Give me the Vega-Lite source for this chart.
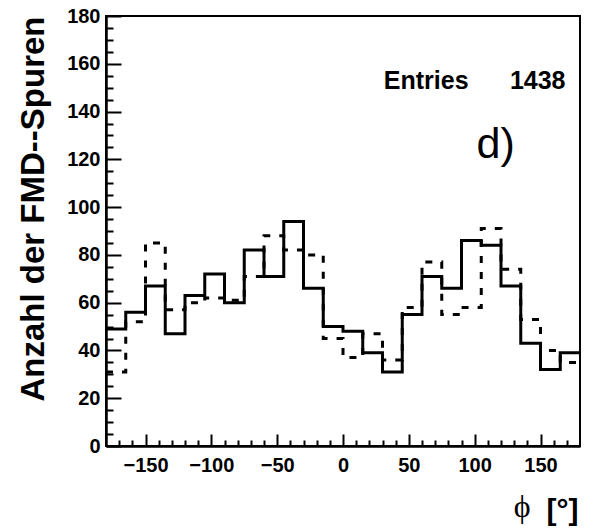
{
  "$schema": "https://vega.github.io/schema/vega-lite/v6.json",
  "autosize": "none",
  "width": 474,
  "height": 430,
  "padding": {"left": 106, "top": 16, "right": 15, "bottom": 83},
  "config": {
    "view": {"stroke": "black", "strokeWidth": 2}
  },
  "data": {
    "values": [
      {"phi": -180, "solid": 49, "dashed": 31},
      {"phi": -165, "solid": 56, "dashed": 52},
      {"phi": -150, "solid": 67, "dashed": 85},
      {"phi": -135, "solid": 47, "dashed": 57},
      {"phi": -120, "solid": 63, "dashed": 60},
      {"phi": -105, "solid": 72, "dashed": 62},
      {"phi": -90, "solid": 60, "dashed": 61},
      {"phi": -75, "solid": 82, "dashed": 71},
      {"phi": -60, "solid": 71, "dashed": 88},
      {"phi": -45, "solid": 94, "dashed": 82},
      {"phi": -30, "solid": 66, "dashed": 80},
      {"phi": -15, "solid": 50, "dashed": 45},
      {"phi": 0, "solid": 48, "dashed": 37},
      {"phi": 15, "solid": 39, "dashed": 47},
      {"phi": 30, "solid": 31, "dashed": 36},
      {"phi": 45, "solid": 55, "dashed": 58},
      {"phi": 60, "solid": 71, "dashed": 77},
      {"phi": 75, "solid": 66, "dashed": 55},
      {"phi": 90, "solid": 86, "dashed": 58},
      {"phi": 105, "solid": 84, "dashed": 91},
      {"phi": 120, "solid": 67, "dashed": 74},
      {"phi": 135, "solid": 43, "dashed": 53},
      {"phi": 150, "solid": 32, "dashed": 40},
      {"phi": 165, "solid": 39, "dashed": 35},
      {"phi": 180, "solid": 39, "dashed": 35}
    ]
  },
  "layer": [
    {
      "mark": {"type": "line", "interpolate": "step-after", "color": "black", "strokeWidth": 3, "strokeDash": [7, 9]},
      "encoding": {
        "x": {"field": "phi", "type": "quantitative", "scale": {"domain": [-180, 180], "nice": false},
          "axis": {"orient": "bottom", "title": null, "gridOpacity": 0, "values": [-170,-160,-140,-130,-120,-110,-90,-80,-70,-60,-40,-30,-20,-10,10,20,30,40,60,70,80,90,110,120,130,140,160,170], "labels": false, "tickSize": -6, "tickColor": "black", "tickWidth": 2, "domainColor": "black", "domainWidth": 2}},
        "y": {"field": "dashed", "type": "quantitative", "scale": {"domain": [0, 180], "nice": false},
          "axis": {"orient": "left", "title": null, "gridOpacity": 0, "values": [5,10,15,25,30,35,45,50,55,65,70,75,85,90,95,105,110,115,125,130,135,145,150,155,165,170,175], "labels": false, "tickSize": -7, "tickColor": "black", "tickWidth": 2, "domainColor": "black", "domainWidth": 2}}
      }
    },
    {
      "mark": {"type": "line", "interpolate": "step-after", "color": "black", "strokeWidth": 3},
      "encoding": {
        "x": {"field": "phi", "type": "quantitative",
          "axis": {"orient": "bottom", "gridOpacity": 0, "values": [-150, -100, -50, 0, 50, 100, 150], "tickSize": -12, "tickColor": "black", "tickWidth": 2, "labelPadding": 21,
            "labelFont": "Liberation Sans", "labelFontWeight": "bold", "labelFontSize": 20, "labelColor": "black", "domainColor": "black", "domainWidth": 2,
            "title": "[°]", "titleFont": "Liberation Sans", "titleFontWeight": "bold", "titleFontSize": 30, "titleColor": "black", "titleAnchor": "end", "titleAlign": "right", "titlePadding": 20, "titleX": 472}},
        "y": {"field": "solid", "type": "quantitative",
          "axis": {"orient": "left", "gridOpacity": 0, "values": [0, 20, 40, 60, 80, 100, 120, 140, 160, 180], "tickSize": -15, "tickColor": "black", "tickWidth": 2, "labelPadding": 21,
            "labelFont": "Liberation Sans", "labelFontWeight": "bold", "labelFontSize": 20, "labelColor": "black", "domainColor": "black", "domainWidth": 2,
            "title": "Anzahl der FMD--Spuren", "titleFont": "Liberation Sans", "titleFontWeight": "bold", "titleFontSize": 33, "titleColor": "black",
            "titleX": -73, "titleY": 0, "titleAngle": -90, "titleAlign": "right", "titleBaseline": "middle", "titleAnchor": null}}
      }
    },
    {
      "data": {"values": [{"x": 31, "y": 153}]},
      "mark": {"type": "text", "font": "Liberation Sans", "fontWeight": "bold", "fontSize": 25, "align": "left", "baseline": "middle", "color": "black", "text": "Entries"},
      "encoding": {"x": {"field": "x", "type": "quantitative", "axis": null}, "y": {"field": "y", "type": "quantitative", "axis": null}}
    },
    {
      "data": {"values": [{"x": 169, "y": 153}]},
      "mark": {"type": "text", "font": "Liberation Sans", "fontWeight": "bold", "fontSize": 25, "align": "right", "baseline": "middle", "color": "black", "text": "1438"},
      "encoding": {"x": {"field": "x", "type": "quantitative", "axis": null}, "y": {"field": "y", "type": "quantitative", "axis": null}}
    },
    {
      "data": {"values": [{"x": 116, "y": 126}]},
      "mark": {"type": "text", "font": "Liberation Sans", "fontSize": 43, "align": "center", "baseline": "middle", "color": "black", "text": "d)"},
      "encoding": {"x": {"field": "x", "type": "quantitative", "axis": null}, "y": {"field": "y", "type": "quantitative", "axis": null}}
    },
    {
      "data": {"values": [{"x": 136, "y": -25.5}]},
      "mark": {"type": "text", "font": "Liberation Serif", "fontSize": 32, "align": "center", "baseline": "middle", "color": "black", "text": "ϕ"},
      "encoding": {"x": {"field": "x", "type": "quantitative", "axis": null}, "y": {"field": "y", "type": "quantitative", "axis": null}}
    }
  ],
  "resolve": {"axis": {"x": "independent", "y": "independent"}}
}
